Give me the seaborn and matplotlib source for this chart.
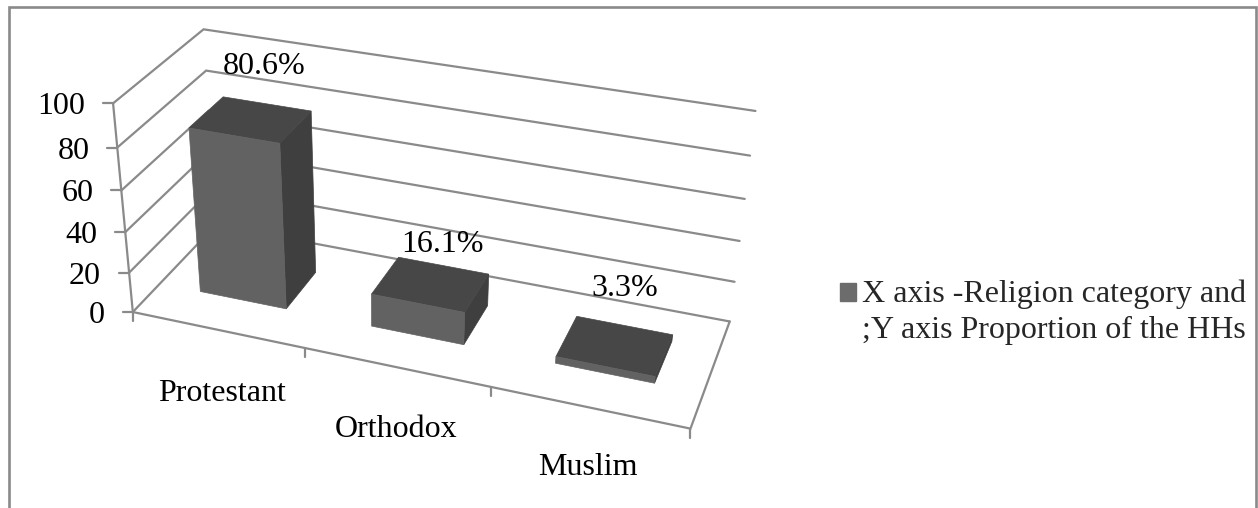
import numpy as np
import matplotlib
matplotlib.use("Agg")
import matplotlib.pyplot as plt
import matplotlib.transforms as mtransforms
from matplotlib.patches import Patch
import seaborn as sns

# Chart data
categories = ["Protestant", "Orthodox", "Muslim"]
values = [80.6, 16.1, 3.3]
value_labels = ["80.6%", "16.1%", "3.3%"]
axis_ticks = [0, 20, 40, 60, 80, 100]
legend_label = "X axis -Religion category and\n;Y axis Proportion of the HHs"

# Colours
FRONT = "#626262"
TOP = "#474747"
SIDE = "#3f3f3f"
RULE = "#8a8a8a"
SWATCH = "#6c6c6c"

# Bar footprint inside each category slot and on the floor depth axis
BAR_HALF_WIDTH = 0.255
DEPTH_FRONT, DEPTH_BACK = 0.31, 0.71

# Camera calibration: (category, depth, value) -> canvas pixel
_calibration = [
    ((0, 0, 0), (135, 312)), ((0, 0, 20), (130.7, 271.7)), ((0, 0, 40), (125.7, 231.7)),
    ((0, 0, 60), (121, 190)), ((0, 0, 80), (116, 146.7)), ((0, 0, 100), (111.7, 102.7)),
    ((1, 0, 0), (305, 351)), ((2, 0, 0), (490, 388)), ((3, 0, 0), (690, 428)),
    ((0, 1, 0), (213, 225)), ((0, 1, 80), (206.7, 71)), ((0, 1, 100), (205, 30)),
    ((3, 1, 0), (730, 320)), ((3, 1, 20), (735, 281)), ((3, 1, 40), (740, 241)),
    ((3, 1, 60), (745, 199)), ((3, 1, 80), (750, 156)), ((3, 1, 100), (755, 111.7)),
]


def _fit_camera(pairs):
    rows, rhs = [], []
    for (X, Y, Z), (px, py) in pairs:
        rows.append([X, Y, Z, 1, 0, 0, 0, 0, -px * X, -px * Y, -px * Z])
        rhs.append(px)
        rows.append([0, 0, 0, 0, X, Y, Z, 1, -py * X, -py * Y, -py * Z])
        rhs.append(py)
    sol = np.linalg.lstsq(np.array(rows, float), np.array(rhs, float), rcond=None)[0]
    return np.append(sol, 1.0).reshape(3, 4)


CAMERA = _fit_camera(_calibration)


def project(u, d, z):
    u, d, z = np.broadcast_arrays(np.asarray(u, float), np.asarray(d, float), np.asarray(z, float))
    pts = np.stack([u, d, z, np.ones_like(u)], axis=-1) @ CAMERA.T
    return pts[..., :2] / pts[..., 2:]


class DepthPlane(mtransforms.Transform):
    """Maps (bar position, value) on a plane of constant depth to the canvas."""
    input_dims = output_dims = 2
    has_inverse = False

    def __init__(self, plane_depth):
        super().__init__()
        self.plane_depth = plane_depth

    def transform_non_affine(self, values):
        values = np.asarray(values, float)
        return project(values[:, 0] + 0.5, self.plane_depth, values[:, 1])


sns.set_theme(style="white")
plt.rcParams["font.family"] = ["Liberation Serif", "DejaVu Serif"]
FONT_SIZE = 23

fig = plt.figure(figsize=(12.58, 5.08), dpi=100, facecolor="white")
ax = fig.add_axes([0, 0, 1, 1])

# Front faces come from the bar plot, then get placed on the front plane of each bar
sns.barplot(x=categories, y=values, color=FRONT, saturation=1, width=2 * BAR_HALF_WIDTH, ax=ax)
front_plane = DepthPlane(DEPTH_FRONT)
for patch in ax.patches:
    patch.set_transform(front_plane + ax.transData)
    patch.set_clip_on(False)
    patch.set_zorder(5)
    patch.set_edgecolor(FRONT)
    patch.set_linewidth(0.5)

ax.set_xlim(0, 1258)
ax.set_ylim(508, 0)
ax.set_axis_off()
rule_width = 1.6

# Outer frame, open along the bottom edge
ax.plot([8.5, 8.5, 1255.5, 1255.5], [508, 7.3, 7.3, 508], color=RULE, lw=1.9, zorder=1, solid_joinstyle="miter")


def poly_line(u, d, z, **kw):
    xy = project(u, d, z)
    ax.plot(xy[:, 0], xy[:, 1], color=RULE, lw=rule_width, zorder=2, solid_joinstyle="miter", **kw)


# Gridlines run along the left wall and the back wall
for tick in axis_ticks:
    poly_line([0, 0, 3], [0, 1, 1], [tick, tick, tick])

# Floor edges and the value axis
poly_line([0, 3, 3], [0, 0, 1], [0, 0, 0])
poly_line([0, 0], [0, 0], [0, 100])

# Tick marks and value-axis labels
for tick in axis_ticks:
    x0, y0 = project(0, 0, tick)
    ax.plot([x0 - 10, x0], [y0, y0], color=RULE, lw=rule_width, zorder=2)
    ax.text(x0 - 28, y0 + 11, str(tick), ha="right", va="baseline", fontsize=FONT_SIZE, color="black")
for slot in range(len(categories) + 1):
    x0, y0 = project(slot, 0, 0)
    ax.plot([x0, x0], [y0, y0 + 9], color=RULE, lw=rule_width, zorder=2)

# Top and side faces of each bar
for i, value in enumerate(values):
    left, right = i + 0.5 - BAR_HALF_WIDTH, i + 0.5 + BAR_HALF_WIDTH
    top = project([left, right, right, left], [DEPTH_FRONT, DEPTH_FRONT, DEPTH_BACK, DEPTH_BACK], value)
    side = project([right, right, right, right], [DEPTH_FRONT, DEPTH_BACK, DEPTH_BACK, DEPTH_FRONT], [0, 0, value, value])
    ax.fill(side[:, 0], side[:, 1], color=SIDE, lw=0.5, zorder=4)
    ax.fill(top[:, 0], top[:, 1], color=TOP, lw=0.5, zorder=4)

# Category labels, placed by baseline
category_label_xy = [(222.5, 400.7), (396, 436.7), (587.5, 475)]
for name, (x, y) in zip(categories, category_label_xy):
    ax.text(x, y, name, ha="center", va="baseline", fontsize=FONT_SIZE, color="black")

# Value labels, placed by baseline
value_label_xy = [(264, 74), (442.5, 252.3), (625, 295.7)]
for text, (x, y) in zip(value_labels, value_label_xy):
    ax.text(x, y, text, ha="center", va="baseline", fontsize=FONT_SIZE, color="black", zorder=6)

# Legend
legend = ax.legend(
    handles=[Patch(facecolor=SWATCH, edgecolor=SWATCH, label=legend_label)],
    loc="upper left",
    bbox_to_anchor=(840 / 1258, 1 - 279.5 / 508),
    frameon=False,
    fontsize=FONT_SIZE,
    handlelength=0.5,
    handleheight=0.5,
    handletextpad=0.2,
    borderpad=0,
    borderaxespad=0,
    labelspacing=0,
)
legend.get_texts()[0].set_linespacing(1.33)
swatch = legend.get_patches()[0]
swatch.set_y(swatch.get_y() + 14.5)

fig.savefig("out.png", dpi=100, facecolor="white")
